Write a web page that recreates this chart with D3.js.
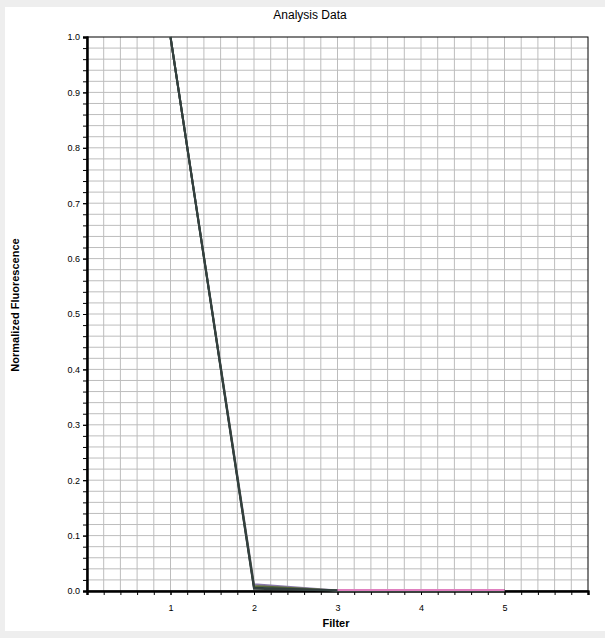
<!DOCTYPE html>
<html><head><meta charset="utf-8">
<script src="https://cdn.jsdelivr.net/npm/d3@7"></script>
<style>body{margin:0;background:#eeeeee}svg{display:block}</style>
</head><body><svg id="c" width="605" height="638"></svg>
<script>
const filters = [1, 2, 3, 4, 5];
const seriesA = [1.0, 0.012, 0.001, 0.001, 0.001];
const seriesB = [1.0, 0.009, 0.001, 0.001, 0.001];
const seriesC = [1.0, 0.006, 0.001, 0.001, 0.001];
const seriesD = [1.0, 0.004, 0.001, 0.001, 0.001];
const seriesE = [null, null, 0.002, 0.002, 0.002];
const colors = ["#8a7aa8", "#5a6a3a", "#2c3e3e", "#34403f", "#e080c0"];
const yTicks = [0, 0.1, 0.2, 0.3, 0.4, 0.5, 0.6, 0.7, 0.8, 0.9, 1.0];

const svg = d3.select("#c");
svg.append("rect").attr("x", 5).attr("y", 7).attr("width", 600).attr("height", 624).attr("fill", "#fff");
const m = {l: 87, r: 588, t: 37, b: 591};
const x = d3.scaleLinear().domain([0, 6]).range([m.l, m.r]);
const y = d3.scaleLinear().domain([0, 1]).range([m.b, m.t]);
const font = "Liberation Sans, Arial, sans-serif";

const g = svg.append("g");
g.selectAll("line.v").data(d3.range(1, 30).map(i => i * 0.2)).enter().append("line")
  .attr("x1", d => x(d)).attr("x2", d => x(d)).attr("y1", m.t).attr("y2", m.b)
  .attr("stroke", "#bdbdbd").attr("stroke-width", 1);
g.selectAll("line.h").data(d3.range(1, 50).map(i => i * 0.02)).enter().append("line")
  .attr("y1", d => y(d)).attr("y2", d => y(d)).attr("x1", m.l).attr("x2", m.r)
  .attr("stroke", "#bdbdbd").attr("stroke-width", 1);
svg.append("rect").attr("x", m.l).attr("y", m.t).attr("width", m.r - m.l).attr("height", m.b - m.t)
  .attr("fill", "none").attr("stroke", "#000").attr("stroke-width", 1);

svg.append("g").attr("transform", `translate(${m.l},0)`)
  .call(d3.axisLeft(y).tickValues(yTicks).tickFormat(d3.format(".1f")).tickSize(4));
svg.append("g").attr("transform", `translate(${m.l},0)`)
  .call(d3.axisLeft(y).tickValues(d3.range(0, 51).map(i => i * 0.02)).tickFormat("").tickSize(4));
svg.append("g").attr("transform", `translate(0,${m.b})`)
  .call(d3.axisBottom(x).tickValues(filters).tickFormat(d3.format("d")).tickSize(4).tickPadding(10));
svg.append("g").attr("transform", `translate(0,${m.b})`)
  .call(d3.axisBottom(x).tickValues(d3.range(0, 31).map(i => i * 0.2)).tickFormat("").tickSize(4));
svg.selectAll(".domain").attr("stroke-width", 2);
svg.selectAll(".tick text").attr("font-family", font).attr("font-size", 9).attr("fill", "#000");

const line = d3.line().defined(d => d !== null).x((d, i) => x(filters[i])).y(d => y(d));
[seriesA, seriesB, seriesC, seriesD, seriesE].forEach((s, i) => {
  svg.append("path").datum(s).attr("d", line).attr("fill", "none")
    .attr("stroke", colors[i]).attr("stroke-width", 2);
});

svg.append("text").attr("x", 310).attr("y", 19).attr("text-anchor", "middle")
  .attr("font-family", font).attr("font-size", 12).text("Analysis Data");
svg.append("text").attr("x", 336).attr("y", 627).attr("text-anchor", "middle")
  .attr("font-family", font).attr("font-weight", "bold").attr("font-size", 11).text("Filter");
svg.append("text").attr("transform", "translate(19,305) rotate(-90)").attr("text-anchor", "middle")
  .attr("font-family", font).attr("font-weight", "bold").attr("font-size", 11).text("Normalized Fluorescence");
</script></body></html>
